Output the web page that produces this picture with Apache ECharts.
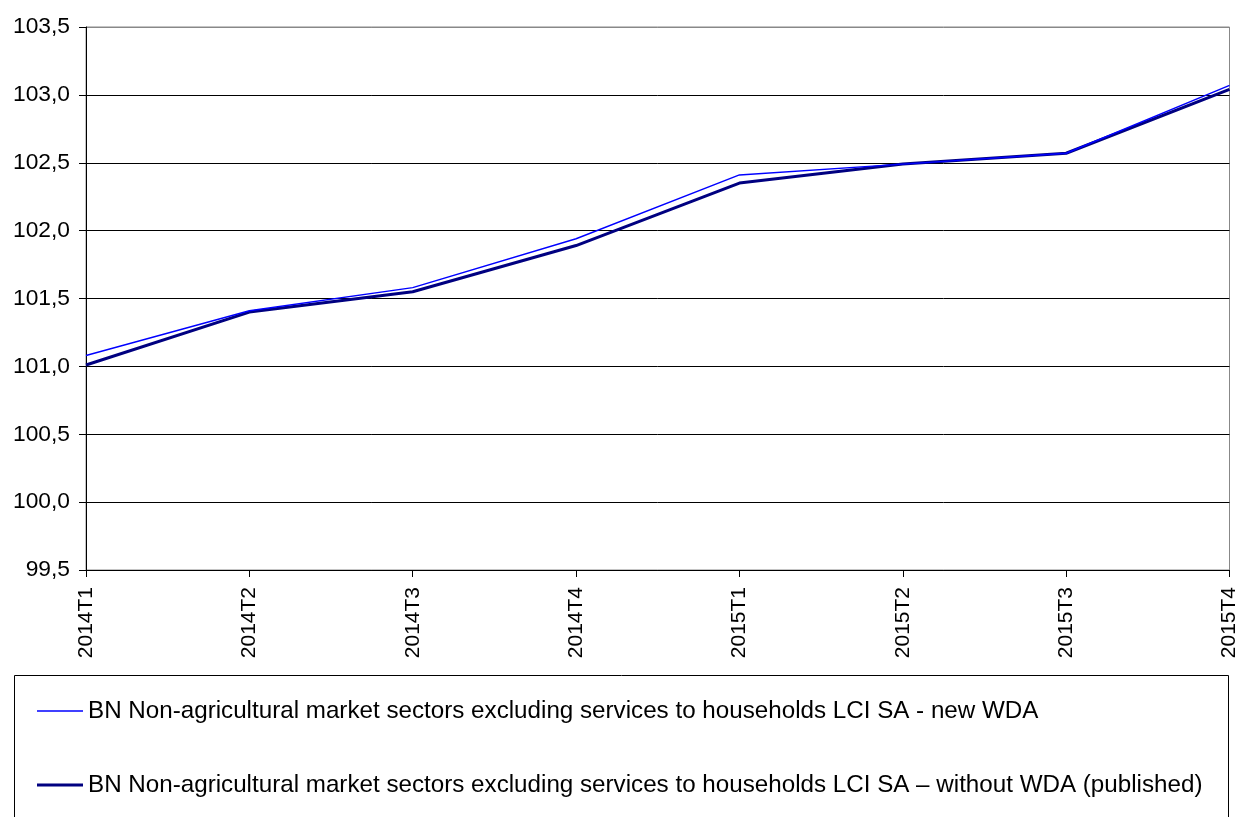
<!DOCTYPE html>
<html>
<head>
<meta charset="utf-8">
<script src="https://cdn.jsdelivr.net/npm/echarts@6/dist/echarts.min.js"></script>
<style>html,body{margin:0;padding:0;background:#fff}#c{width:1240px;height:817px}</style>
</head>
<body>
<div id="c"></div>
<script>
const categories = ['2014T1','2014T2','2014T3','2014T4','2015T1','2015T2','2015T3','2015T4'];
const newWDA = [101.08, 101.41, 101.58, 101.94, 102.41, 102.49, 102.57, 103.07];
const published = [101.01, 101.40, 101.55, 101.89, 102.35, 102.49, 102.57, 103.04];
const seriesNames = [
  'BN Non-agricultural market sectors excluding services to households LCI SA - new WDA',
  'BN Non-agricultural market sectors excluding services to households LCI SA \u2013 without WDA (published)'
];
const yMin = 99.5, yMax = 103.5, yStep = 0.5;

const font = 'Liberation Sans, Arial, sans-serif';
const chart = echarts.init(document.getElementById('c'));
const legendBase = {
  orient: 'horizontal', left: 37, padding: 0, itemWidth: 46, itemGap: 5,
  textStyle: { fontSize: 24.2, color: '#000', fontFamily: font }
};
chart.setOption({
  animation: false,
  backgroundColor: '#fff',
  grid: { left: 86, right: 9, top: 27, bottom: 247, show: true, borderColor: '#888', borderWidth: 1 },
  xAxis: {
    type: 'category', data: categories, boundaryGap: false,
    axisLine: { lineStyle: { color: '#000', width: 1 } },
    axisTick: { show: true, length: 7, lineStyle: { color: '#000' }, interval: 0 },
    axisLabel: { rotate: 90, margin: 17, fontSize: 21, color: '#000', fontFamily: font, interval: 0 },
    splitLine: { show: false }
  },
  yAxis: {
    type: 'value', min: yMin, max: yMax, interval: yStep,
    axisLine: { show: true, lineStyle: { color: '#000', width: 1 } },
    axisTick: { show: true, length: 7, lineStyle: { color: '#000' } },
    axisLabel: { margin: 16, fontSize: 22.8, color: '#000', fontFamily: font,
      formatter: v => v.toFixed(1).replace('.', ',') },
    splitLine: { show: true, lineStyle: { color: ['#000','#000','#000','#000','#000','#000','#000','#000','#888'], width: 1 } }
  },
  graphic: [{
    type: 'rect', left: 12, top: 673, shape: { width: 1214, height: 160 },
    style: { fill: 'none', stroke: '#000', lineWidth: 1 }, silent: true
  }],
  legend: [
    Object.assign({}, legendBase, { top: 699, itemHeight: 1.5, data: [{ name: seriesNames[0], icon: 'rect' }] }),
    Object.assign({}, legendBase, { top: 773, itemHeight: 3, data: [{ name: seriesNames[1], icon: 'rect' }] })
  ],
  series: [
    { name: seriesNames[0], type: 'line', data: newWDA, symbol: 'none', showSymbol: false,
      lineStyle: { color: '#0000FF', width: 1.4 }, itemStyle: { color: '#0000FF' }, z: 3 },
    { name: seriesNames[1], type: 'line', data: published, symbol: 'none', showSymbol: false,
      lineStyle: { color: '#000080', width: 3 }, itemStyle: { color: '#000080' }, z: 2 }
  ]
});
</script>
</body>
</html>
